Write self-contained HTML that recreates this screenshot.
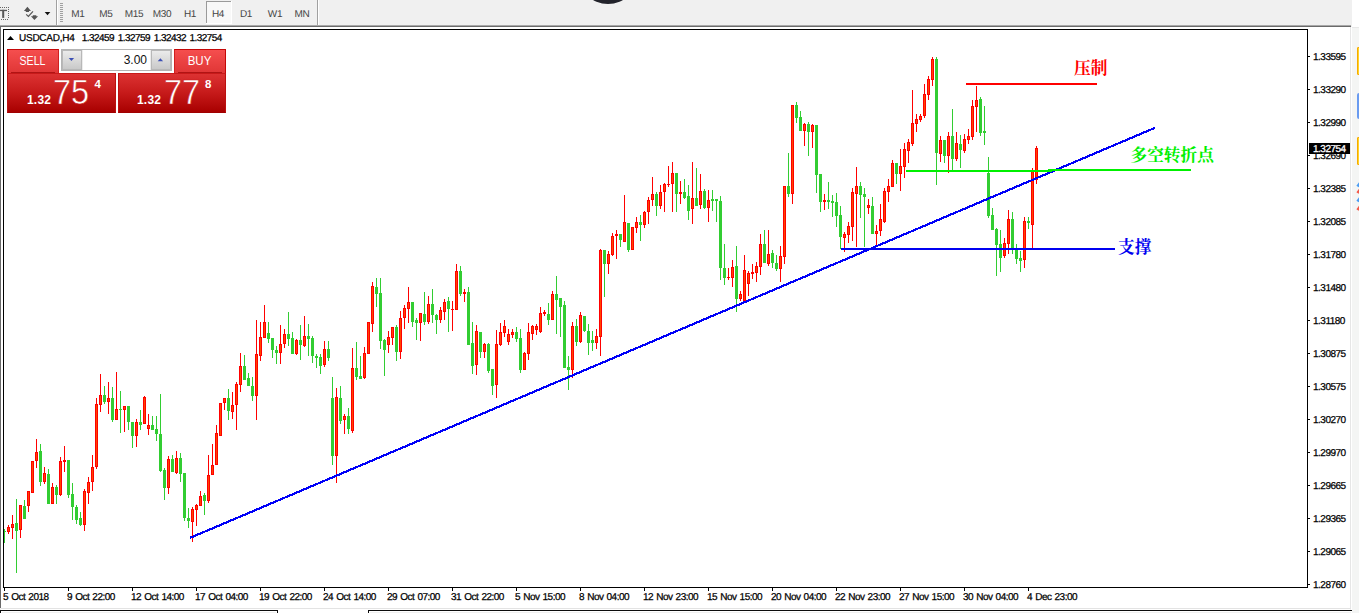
<!DOCTYPE html>
<html lang="zh">
<head>
<meta charset="utf-8">
<title>USDCAD,H4</title>
<style>
html,body{margin:0;padding:0;}
body{width:1359px;height:613px;overflow:hidden;position:relative;background:#f0f0f0;font-family:"Liberation Sans","Noto Sans CJK SC",sans-serif;}
.abs{position:absolute;}
#win{left:1px;top:27px;width:1349px;height:583px;background:#fff;}
#gfx{left:0;top:0;width:1359px;height:613px;}
.tf{text-rendering:geometricPrecision;position:absolute;top:9px;width:28px;height:11px;line-height:11px;text-align:center;font-size:10px;letter-spacing:-0.3px;color:#454545;}
.pl{text-rendering:geometricPrecision;position:absolute;left:1313px;width:40px;height:11px;line-height:11px;font-size:10px;letter-spacing:-0.5px;color:#000;white-space:nowrap;-webkit-text-stroke:0.25px #000;}
.dl{text-rendering:geometricPrecision;position:absolute;top:592px;height:11px;line-height:11px;font-size:10px;letter-spacing:-0.52px;word-spacing:0.9px;color:#000;white-space:nowrap;-webkit-text-stroke:0.25px #000;}
#title{text-rendering:geometricPrecision;left:19px;top:33px;height:11px;line-height:11px;font-size:10px;letter-spacing:-0.35px;color:#000;white-space:pre;-webkit-text-stroke:0.25px #000;}
.cn{position:absolute;font-family:"Liberation Serif","Noto Serif CJK SC",serif;font-weight:700;font-size:16.7px;line-height:17px;height:17px;white-space:nowrap;}
.btn{position:absolute;color:#fff;white-space:nowrap;}
.big{font-size:34.5px;line-height:40px;transform:scaleX(0.94);transform-origin:0 0;-webkit-text-stroke:0.55px #c81b1b;}
</style>
</head>
<body>
<div id="win" class="abs"></div>
<div class="abs" style="left:1352px;top:0;width:7px;height:27px;background:#fff;"></div>
<div class="abs" style="left:1351px;top:27px;width:1px;height:586px;background:#fff;"></div>
<div class="abs" style="left:1352px;top:27px;width:7px;height:586px;background:#f4f5f4;border-top:1px solid #e8e8e8;box-sizing:border-box;"></div>

<svg id="gfx" class="abs" width="1359" height="613" viewBox="0 0 1359 613" shape-rendering="crispEdges" fill="none">
<!-- toolbar bottom lines -->
<rect x="0" y="25" width="1351" height="1" fill="#a8a8a8"/>
<rect x="0" y="26" width="1351" height="1" fill="#6a6a6a"/>
<rect x="0" y="26" width="1" height="582" fill="#6a6a6a"/>
<rect x="0" y="608" width="1" height="2" fill="#f0f0f0"/>
<rect x="1350" y="27" width="1" height="582" fill="#e6e6e6"/>
<rect x="1" y="608" width="1350" height="1" fill="#e3e3e3"/>
<!-- bottom tab bar -->
<rect x="278" y="610" width="90" height="3" fill="#ffffff"/>
<rect x="0" y="610" width="278" height="1" fill="#0c0c0c"/>
<rect x="368" y="610" width="984" height="1" fill="#0c0c0c"/>
<rect x="1" y="611" width="276" height="1" fill="#ffffff"/><rect x="369" y="611" width="982" height="1" fill="#ffffff"/><rect x="276" y="611" width="1" height="2" fill="#ffffff"/><rect x="1" y="611" width="1" height="2" fill="#ffffff"/><rect x="369" y="611" width="1" height="2" fill="#ffffff"/>
<rect x="277" y="610" width="1" height="3" fill="#0c0c0c"/>
<rect x="0" y="610" width="1" height="3" fill="#0c0c0c"/>
<rect x="368" y="610" width="1" height="3" fill="#0c0c0c"/>
<!-- toolbar separators -->
<rect x="56" y="0" width="1" height="25" fill="#a0a0a0"/>
<rect x="57" y="0" width="1" height="25" fill="#ffffff"/>
<rect x="317" y="0" width="1" height="25" fill="#a0a0a0"/>
<rect x="318" y="0" width="1" height="25" fill="#ffffff"/>
<!-- grip -->
<path d="M60 3.5h3M60 5.5h3M60 7.5h3M60 9.5h3M60 11.5h3M60 13.5h3M60 15.5h3M60 17.5h3M60 19.5h3M60 21.5h3" stroke="#a0a0a0" stroke-width="1"/>
<!-- H4 pressed button -->
<rect x="207" y="2" width="24" height="21" fill="#f8f8f8"/>
<rect x="206" y="1" width="1" height="22" fill="#9a9a9a"/>
<rect x="206" y="1" width="25" height="1" fill="#9a9a9a"/>
<rect x="231" y="1" width="1" height="23" fill="#ffffff"/>
<rect x="206" y="23" width="26" height="1" fill="#ffffff"/>
<!-- T icon -->
<g shape-rendering="auto">
<rect x="0" y="9.8" width="7" height="1.3" fill="#585858"/>
<rect x="2.2" y="9.8" width="2" height="8.1" fill="#585858"/>
<path d="M0 7.5H9" stroke="#666" stroke-width="1" stroke-dasharray="1 1"/>
<path d="M8.5 7V19" stroke="#666" stroke-width="1" stroke-dasharray="1 1"/>
<path d="M1 19.5H9" stroke="#666" stroke-width="1" stroke-dasharray="1 1"/>
<!-- arrows icon -->
<path d="M27.4 6.8L31 10.9H29V12H25.8V10.9H23.9Z" fill="#555"/>
<path d="M34.4 20L38.1 16.2H36.3V15.2H32.8V16.2H30.9Z" fill="#555"/>
<path d="M26.2 14.4L28.4 16.4L33 11.3" stroke="#555" stroke-width="1.2"/>
<path d="M44.7 11.9H50.3L47.5 15.2Z" fill="#111"/>
<!-- dark circle at top -->
<circle cx="608" cy="-26" r="30" fill="#22232b"/>
</g>
<path d="M1308 56.5H1310M1308 89.5H1310M1308 122.5H1310M1308 155.5H1310M1308 188.5H1310M1308 221.5H1310M1308 254.5H1310M1308 287.5H1310M1308 320.5H1310M1308 353.5H1310M1308 386.5H1310M1308 419.5H1310M1308 452.5H1310M1308 485.5H1310M1308 518.5H1310M1308 551.5H1310M1308 584.5H1310" stroke="#000" stroke-width="1"/>
<path d="M4.5 588V591M68.5 588V591M132.5 588V591M196.5 588V591M260.5 588V591M324.5 588V591M388.5 588V591M452.5 588V591M516.5 588V591M580.5 588V591M644.5 588V591M708.5 588V591M772.5 588V591M836.5 588V591M900.5 588V591M964.5 588V591M1028.5 588V591" stroke="#000" stroke-width="1"/>
<!-- candles -->
<path d="M8.5 525V534M12.5 515V539M20.5 505V538M28.5 491V512M32.5 461V493M36.5 439V468M44.5 467V484M52.5 483V504M60.5 457V496M64.5 446V472M84.5 489V531M88.5 477V504M92.5 455V491M96.5 398V469M100.5 374V412M108.5 382V414M116.5 372V420M124.5 406V432M136.5 419V447M144.5 396V424M148.5 414V435M168.5 456V494M176.5 451V474M192.5 507V542M196.5 504V526M200.5 491V506M208.5 455V503M212.5 444V475M216.5 425V465M220.5 403V436M224.5 398V410M232.5 392V419M236.5 382V430M240.5 353V392M256.5 320V420M260.5 322V361M264.5 305V338M280.5 325V364M284.5 329V348M296.5 339V355M304.5 316V347M324.5 341V367M336.5 388V483M344.5 414V434M352.5 348V433M364.5 347V379M368.5 322V354M372.5 282V332M388.5 331V353M392.5 327V345M400.5 311V359M404.5 305V329M408.5 287V323M420.5 313V341M428.5 296V324M440.5 307V323M444.5 299V320M452.5 301V331M456.5 264V310M464.5 289V302M476.5 325V375M484.5 343V358M496.5 330V398M500.5 323V346M504.5 320V337M508.5 329V345M512.5 329V338M524.5 352V370M528.5 323V360M532.5 325V340M536.5 324V335M540.5 307V333M544.5 310V316M552.5 291V320M572.5 322V378M580.5 312V343M596.5 329V349M600.5 249V356M608.5 251V274M612.5 233V256M616.5 230V259M624.5 195V242M632.5 227V250M636.5 217V233M644.5 211V228M648.5 197V224M652.5 177V206M660.5 185V209M664.5 183V212M668.5 166V187M672.5 162V212M680.5 181V204M692.5 162V224M700.5 174V209M708.5 190V222M728.5 268V280M732.5 260V287M740.5 291V301M744.5 255V301M748.5 271V296M752.5 264V279M756.5 262V282M760.5 234V275M768.5 230V266M780.5 246V282M784.5 186V264M792.5 105V204M804.5 123V146M812.5 124V148M824.5 194V210M844.5 232V252M848.5 222V243M852.5 188V241M856.5 167V247M868.5 199V214M876.5 225V246M880.5 204V236M884.5 188V223M888.5 179V202M892.5 160V187M900.5 149V191M904.5 143V178M908.5 139V163M912.5 90V146M916.5 114V132M920.5 114V122M924.5 84V118M928.5 76V100M932.5 57V86M940.5 136V162M948.5 132V173M956.5 132V161M964.5 134V153M968.5 129V144M972.5 100V140M976.5 86V132M1004.5 238V258M1008.5 210V254M1024.5 217V268M1032.5 168V249M1036.5 146V184" stroke="#ff0000" stroke-width="1"/>
<path d="M4.5 529V543M16.5 499V573M24.5 500V519M40.5 444V486M48.5 469V504M56.5 485V504M68.5 460V498M72.5 483V520M76.5 505V524M80.5 512V526M104.5 386V404M112.5 387V422M120.5 391V433M128.5 406V430M132.5 422V448M140.5 410V430M152.5 416V430M156.5 416V441M160.5 394V472M164.5 468V500M172.5 455V472M180.5 453V482M184.5 473V521M188.5 508V528M204.5 493V515M228.5 389V420M244.5 355V380M248.5 373V386M252.5 377V401M268.5 322V343M272.5 338V358M276.5 346V364M288.5 312V346M292.5 332V354M300.5 325V360M308.5 324V356M312.5 336V363M316.5 354V368M320.5 354V374M328.5 341V361M332.5 377V465M340.5 386V424M348.5 408V434M356.5 342V380M360.5 356V379M376.5 278V307M380.5 278V349M384.5 339V376M396.5 325V361M412.5 302V327M416.5 318V340M424.5 292V325M432.5 289V323M436.5 314V334M448.5 297V332M460.5 266V296M468.5 287V345M472.5 322V374M480.5 332V358M488.5 343V373M492.5 369V395M516.5 327V342M520.5 329V373M548.5 303V325M556.5 276V334M560.5 298V337M564.5 301V368M568.5 356V390M576.5 319V346M584.5 316V332M588.5 324V355M592.5 331V351M604.5 250V297M620.5 234V247M628.5 223V252M640.5 215V241M656.5 192V216M676.5 173V212M684.5 179V199M688.5 185V220M696.5 168V206M704.5 189V209M712.5 190V211M716.5 199V222M720.5 196V280M724.5 244V285M736.5 246V312M764.5 230V263M772.5 250V268M776.5 255V271M788.5 153V197M796.5 102V123M800.5 111V131M808.5 122V156M816.5 125V193M820.5 174V212M828.5 182V209M832.5 195V217M836.5 193V227M840.5 206V249M860.5 182V218M864.5 188V247M872.5 197V234M896.5 163V184M936.5 57V185M944.5 140V163M952.5 109V170M960.5 135V168M980.5 97V136M984.5 106V145M988.5 157V218M992.5 208V230M996.5 228V276M1000.5 230V272M1012.5 212V254M1016.5 244V264M1020.5 251V272M1028.5 217V229" stroke="#32cd32" stroke-width="1"/>
<path d="M8.5 527V532M12.5 524V528M20.5 505V530M28.5 491V506M32.5 461V493M36.5 452V461M44.5 473V482M52.5 487V504M60.5 461V495M64.5 460V462M84.5 491V525M88.5 482V493M92.5 467V482M96.5 404V467M100.5 395V405M108.5 398V402M116.5 409V420M124.5 406V410M136.5 422V436M144.5 397V424M148.5 425V429M168.5 459V488M176.5 458V473M192.5 509V522M196.5 505V510M200.5 496V506M208.5 475V501M212.5 465V475M216.5 433V465M220.5 403V436M224.5 398V403M232.5 405V412M236.5 384V405M240.5 366V385M256.5 354V396M260.5 337V356M264.5 322V338M280.5 344V353M284.5 334V344M296.5 340V354M304.5 336V346M324.5 349V365M336.5 397V456M344.5 416V420M352.5 368V431M364.5 353V378M368.5 322V354M372.5 286V324M388.5 337V345M392.5 327V338M400.5 318V352M404.5 308V318M408.5 302V309M420.5 313V323M428.5 304V322M440.5 310V320M444.5 302V312M452.5 309V310M456.5 271V310M464.5 292V294M476.5 331V365M484.5 344V352M496.5 344V385M500.5 332V345M504.5 326V333M508.5 334V342M512.5 332V335M524.5 353V370M528.5 332V354M532.5 326V334M536.5 326V330M540.5 313V332M544.5 312V314M552.5 294V320M572.5 326V370M580.5 315V342M596.5 336V343M600.5 250V337M608.5 254V264M612.5 236V255M616.5 234V236M624.5 222V242M632.5 227V250M636.5 222V228M644.5 212V225M648.5 200V212M652.5 194V200M660.5 192V206M664.5 184V192M668.5 184V185M672.5 173V184M680.5 192V194M692.5 198V209M700.5 191V205M708.5 200V208M728.5 277V278M732.5 267V278M740.5 294V299M744.5 270V301M748.5 273V284M752.5 272V274M756.5 266V273M760.5 244V267M768.5 254V264M780.5 256V269M784.5 186V257M792.5 105V194M804.5 124V131M812.5 125V132M824.5 200V202M844.5 234V238M848.5 226V235M852.5 192V227M856.5 186V194M868.5 205V208M876.5 231V234M880.5 219V231M884.5 191V222M888.5 186V192M892.5 163V187M900.5 166V174M904.5 149V167M908.5 142V151M912.5 123V144M916.5 119V124M920.5 116V120M924.5 94V116M928.5 79V95M932.5 59V80M940.5 140V154M948.5 136V156M956.5 143V159M964.5 139V151M968.5 136V140M972.5 106V137M976.5 100V107M1004.5 243V256M1008.5 219V244M1024.5 221V260M1032.5 170V225M1036.5 148V180" stroke="#ff0000" stroke-width="3"/>
<path d="M8.5 528V531M12.5 525V527M20.5 506V529M28.5 492V505M32.5 462V492M36.5 453V460M44.5 474V481M52.5 488V503M60.5 462V494M84.5 492V524M88.5 483V492M92.5 468V481M96.5 405V466M100.5 396V404M108.5 399V401M116.5 410V419M124.5 407V409M136.5 423V435M144.5 398V423M148.5 426V428M168.5 460V487M176.5 459V472M192.5 510V521M196.5 506V509M200.5 497V505M208.5 476V500M212.5 466V474M216.5 434V464M220.5 404V435M224.5 399V402M232.5 406V411M236.5 385V404M240.5 367V384M256.5 355V395M260.5 338V355M264.5 323V337M280.5 345V352M284.5 335V343M296.5 341V353M304.5 337V345M324.5 350V364M336.5 398V455M344.5 417V419M352.5 369V430M364.5 354V377M368.5 323V353M372.5 287V323M388.5 338V344M392.5 328V337M400.5 319V351M404.5 309V317M408.5 303V308M420.5 314V322M428.5 305V321M440.5 311V319M444.5 303V311M456.5 272V309M476.5 332V364M484.5 345V351M496.5 345V384M500.5 333V344M504.5 327V332M508.5 335V341M512.5 333V334M524.5 354V369M528.5 333V353M532.5 327V333M536.5 327V329M540.5 314V331M552.5 295V319M572.5 327V369M580.5 316V341M596.5 337V342M600.5 251V336M608.5 255V263M612.5 237V254M624.5 223V241M632.5 228V249M636.5 223V227M644.5 213V224M648.5 201V211M652.5 195V199M660.5 193V205M664.5 185V191M672.5 174V183M692.5 199V208M700.5 192V204M708.5 201V207M732.5 268V277M740.5 295V298M744.5 271V300M748.5 274V283M756.5 267V272M760.5 245V266M768.5 255V263M780.5 257V268M784.5 187V256M792.5 106V193M804.5 125V130M812.5 126V131M844.5 235V237M848.5 227V234M852.5 193V226M856.5 187V193M868.5 206V207M876.5 232V233M880.5 220V230M884.5 192V221M888.5 187V191M892.5 164V186M900.5 167V173M904.5 150V166M908.5 143V150M912.5 124V143M916.5 120V123M920.5 117V119M924.5 95V115M928.5 80V94M932.5 60V79M940.5 141V153M948.5 137V155M956.5 144V158M964.5 140V150M968.5 137V139M972.5 107V136M976.5 101V106M1004.5 244V255M1008.5 220V243M1024.5 222V259M1032.5 171V224M1036.5 149V179" stroke="#ff4500" stroke-width="1"/>
<path d="M4.5 531V532M16.5 523V531M24.5 506V519M40.5 451V482M48.5 474V504M56.5 487V495M68.5 460V495M72.5 494V507M76.5 507V520M80.5 518V525M104.5 395V402M112.5 398V420M120.5 409V410M128.5 406V422M132.5 422V436M140.5 422V425M152.5 425V430M156.5 429V434M160.5 434V471M164.5 470V488M172.5 459V472M180.5 458V474M184.5 473V518M188.5 518V521M204.5 495V501M228.5 398V411M244.5 366V380M248.5 378V386M252.5 386V396M268.5 333V339M272.5 338V350M276.5 350V353M288.5 334V339M292.5 338V354M300.5 340V345M308.5 336V339M312.5 338V356M316.5 356V358M320.5 357V366M328.5 349V358M332.5 398V456M340.5 398V421M348.5 416V429M356.5 368V377M360.5 376V379M376.5 287V294M380.5 293V341M384.5 340V350M396.5 327V352M412.5 302V322M416.5 320V323M424.5 314V322M432.5 304V315M436.5 315V320M448.5 301V309M460.5 271V294M468.5 292V345M472.5 343V366M480.5 332V352M488.5 344V371M492.5 369V386M516.5 332V339M520.5 338V370M548.5 314V320M556.5 294V300M560.5 298V307M564.5 305V368M568.5 367V370M576.5 326V342M584.5 316V331M588.5 331V343M592.5 340V343M604.5 250V264M620.5 234V240M628.5 223V250M640.5 222V225M656.5 194V206M676.5 173V194M684.5 192V198M688.5 196V211M696.5 198V206M704.5 191V208M712.5 199V201M716.5 199V201M720.5 201V268M724.5 268V278M736.5 266V299M764.5 244V263M772.5 253V263M776.5 263V269M788.5 186V194M796.5 105V118M800.5 117V131M808.5 124V132M816.5 125V175M820.5 174V202M828.5 200V202M832.5 201V203M836.5 202V216M840.5 215V237M860.5 186V195M864.5 194V197M872.5 206V234M896.5 163V174M936.5 59V153M944.5 140V156M952.5 136V159M960.5 144V150M980.5 99V133M984.5 131V133M988.5 173V216M992.5 215V230M996.5 229V245M1000.5 244V258M1012.5 219V249M1016.5 249V259M1020.5 258V261M1028.5 221V223" stroke="#32cd32" stroke-width="3"/>

<!-- chart frame -->
<path d="M3.5 29V588M3 29.5H1308M1307.5 29V588M3 587.5H1308" stroke="#000" stroke-width="1"/>
<!-- lines -->
<path d="M190 537.9L1155 127.8" stroke="#0000f8" stroke-width="2.2"/>
<rect x="966" y="83" width="131" height="2" fill="#ff0000"/>
<rect x="906" y="170" width="146" height="2" fill="#00f000"/><rect x="1048" y="169" width="143" height="2" fill="#00f000"/>
<rect x="841" y="248" width="274" height="2" fill="#0000f0"/>
<!-- current price label -->
<rect x="1309" y="143" width="41" height="11" fill="#000"/>
<!-- right strip icons -->
<g shape-rendering="auto">
<rect x="1357.5" y="47.5" width="6" height="27" rx="0.5" fill="#ffd428" stroke="#f6aa00" stroke-width="1"/>
<rect x="1357" y="93" width="6" height="26" rx="2" fill="#6a9bf0"/>
<rect x="1357.5" y="137.5" width="6" height="27" rx="0.5" fill="#ffd428" stroke="#f6aa00" stroke-width="1"/>
<path d="M1357.5 186.5L1360.5 182.5M1357.5 201.5L1360.5 197.5" stroke="#4a9cf3" stroke-width="2.8"/>
<path d="M1357.5 193L1360.5 189M1357.5 210L1360.5 206" stroke="#f25a4a" stroke-width="2.8"/>
</g>
<!-- triangle in title -->
<path d="M7 40H14L10.5 36Z" fill="#000" shape-rendering="auto"/>
</svg>

<!-- toolbar texts -->
<div class="tf" style="left:64px">M1</div>
<div class="tf" style="left:92px">M5</div>
<div class="tf" style="left:120px">M15</div>
<div class="tf" style="left:148px">M30</div>
<div class="tf" style="left:176px">H1</div>
<div class="tf" style="left:204px">H4</div>
<div class="tf" style="left:232px">D1</div>
<div class="tf" style="left:261px">W1</div>
<div class="tf" style="left:288px">MN</div>

<div id="title" class="abs"><span style="letter-spacing:-0.25px">USDCAD,H4</span><span style="letter-spacing:-0.55px;word-spacing:1.4px">  1.32459 1.32759 1.32432 1.32754</span></div>

<!-- one click trading panel -->
<div class="abs" style="left:7px;top:49px;width:219px;height:64px;">
  <div class="abs" style="left:0;top:24px;width:109px;height:40px;background:linear-gradient(#dc3232,#c61a1a 50%,#a80000);border:1px solid #bc1010;border-top-color:#c81a1a;border-bottom-color:#a00000;box-sizing:border-box;"></div>
  <div class="abs" style="left:111px;top:24px;width:108px;height:40px;background:linear-gradient(#dc3232,#c61a1a 50%,#a80000);border:1px solid #bc1010;border-top-color:#c81a1a;border-bottom-color:#a00000;box-sizing:border-box;"></div>
  <div class="abs" style="left:0;top:0;width:52px;height:24px;background:linear-gradient(#f54e4e,#e03636);border-top:1px solid #c40808;border-left:1px solid #c40808;border-right:1px solid #d02020;box-sizing:border-box;"></div>
  <div class="abs" style="left:167px;top:0;width:52px;height:24px;background:linear-gradient(#f54e4e,#e03636);border-top:1px solid #c40808;border-right:1px solid #c40808;border-left:1px solid #d02020;box-sizing:border-box;"></div>
  <div class="abs" style="left:4px;top:23px;width:44px;height:1px;background:#b01414;"></div>
  <div class="abs" style="left:171px;top:23px;width:44px;height:1px;background:#b01414;"></div>
  <div class="btn" style="left:0;top:5px;width:51px;text-align:center;font-size:12px;line-height:14px;transform:scaleX(0.88);">SELL</div>
  <div class="btn" style="left:167px;top:5px;width:51px;text-align:center;font-size:12px;line-height:14px;transform:scaleX(0.96);">BUY</div>
  <!-- volume box -->
  <div class="abs" style="left:54px;top:0;width:111px;height:22px;background:#ececec;border:1px solid #b4b4b4;box-sizing:border-box;"></div>
  <div class="abs" style="left:55px;top:1px;width:20px;height:20px;background:linear-gradient(#ebebeb,#c9c9c9);border:1px solid #b8b8b8;box-sizing:border-box;"></div>
  <div class="abs" style="left:144px;top:1px;width:20px;height:20px;background:linear-gradient(#ebebeb,#c9c9c9);border:1px solid #b8b8b8;box-sizing:border-box;"></div>
  <div class="abs" style="left:76px;top:1px;width:67px;height:20px;background:#fff;"></div>
  <div class="abs" style="left:76px;top:4px;width:64px;text-align:right;font-size:12px;line-height:14px;color:#111;">3.00</div>
  <svg class="abs" style="left:0;top:0" width="219" height="64" viewBox="0 0 219 64">
    <path d="M61.7 9h5.4l-2.7 3z" fill="#3c4fb4"/>
    <path d="M150.7 12.3h5.4l-2.7 -3z" fill="#3c4fb4"/>
  </svg>
  <!-- prices -->
  <div class="btn" style="left:20px;top:44px;font-size:12px;line-height:14px;font-weight:bold;letter-spacing:0.2px;">1.32</div>
  <div class="btn big" style="left:46px;top:23px;">75</div>
  <div class="btn" style="left:87.5px;top:28px;font-size:11.5px;line-height:14px;font-weight:bold;">4</div>
  <div class="btn" style="left:130px;top:44px;font-size:12px;line-height:14px;font-weight:bold;letter-spacing:0.2px;">1.32</div>
  <div class="btn big" style="left:157px;top:23px;">77</div>
  <div class="btn" style="left:198px;top:28px;font-size:11.5px;line-height:14px;font-weight:bold;">8</div>
</div>

<!-- axis labels -->
<div class="pl" style="top:52px">1.33595</div>
<div class="pl" style="top:85px">1.33290</div>
<div class="pl" style="top:118px">1.32990</div>
<div class="pl" style="top:151px">1.32690</div>
<div class="pl" style="top:184px">1.32385</div>
<div class="pl" style="top:217px">1.32085</div>
<div class="pl" style="top:250px">1.31780</div>
<div class="pl" style="top:283px">1.31480</div>
<div class="pl" style="top:316px">1.31180</div>
<div class="pl" style="top:349px">1.30875</div>
<div class="pl" style="top:382px">1.30575</div>
<div class="pl" style="top:415px">1.30270</div>
<div class="pl" style="top:448px">1.29970</div>
<div class="pl" style="top:481px">1.29665</div>
<div class="pl" style="top:514px">1.29365</div>
<div class="pl" style="top:547px">1.29065</div>
<div class="pl" style="top:580px">1.28760</div>
<div class="pl" style="top:144px;color:#fff;-webkit-text-stroke:0.3px #fff;">1.32754</div>
<div class="dl" style="left:3px">5 Oct 2018</div>
<div class="dl" style="left:67px">9 Oct 22:00</div>
<div class="dl" style="left:131px">12 Oct 14:00</div>
<div class="dl" style="left:195px">17 Oct 04:00</div>
<div class="dl" style="left:259px">19 Oct 22:00</div>
<div class="dl" style="left:323px">24 Oct 14:00</div>
<div class="dl" style="left:387px">29 Oct 07:00</div>
<div class="dl" style="left:451px">31 Oct 22:00</div>
<div class="dl" style="left:515px">5 Nov 15:00</div>
<div class="dl" style="left:579px">8 Nov 04:00</div>
<div class="dl" style="left:643px">12 Nov 23:00</div>
<div class="dl" style="left:707px">15 Nov 15:00</div>
<div class="dl" style="left:771px">20 Nov 04:00</div>
<div class="dl" style="left:835px">22 Nov 23:00</div>
<div class="dl" style="left:899px">27 Nov 15:00</div>
<div class="dl" style="left:963px">30 Nov 04:00</div>
<div class="dl" style="left:1027px">4 Dec 23:00</div>

<!-- annotations -->
<div class="cn" style="left:1074px;top:60px;color:#ff0000;">压制</div>
<div class="cn" style="left:1130.5px;top:147px;color:#00f000;">多空转折点</div>
<div class="cn" style="left:1118px;top:239px;color:#0000f0;">支撑</div>
</body>
</html>
